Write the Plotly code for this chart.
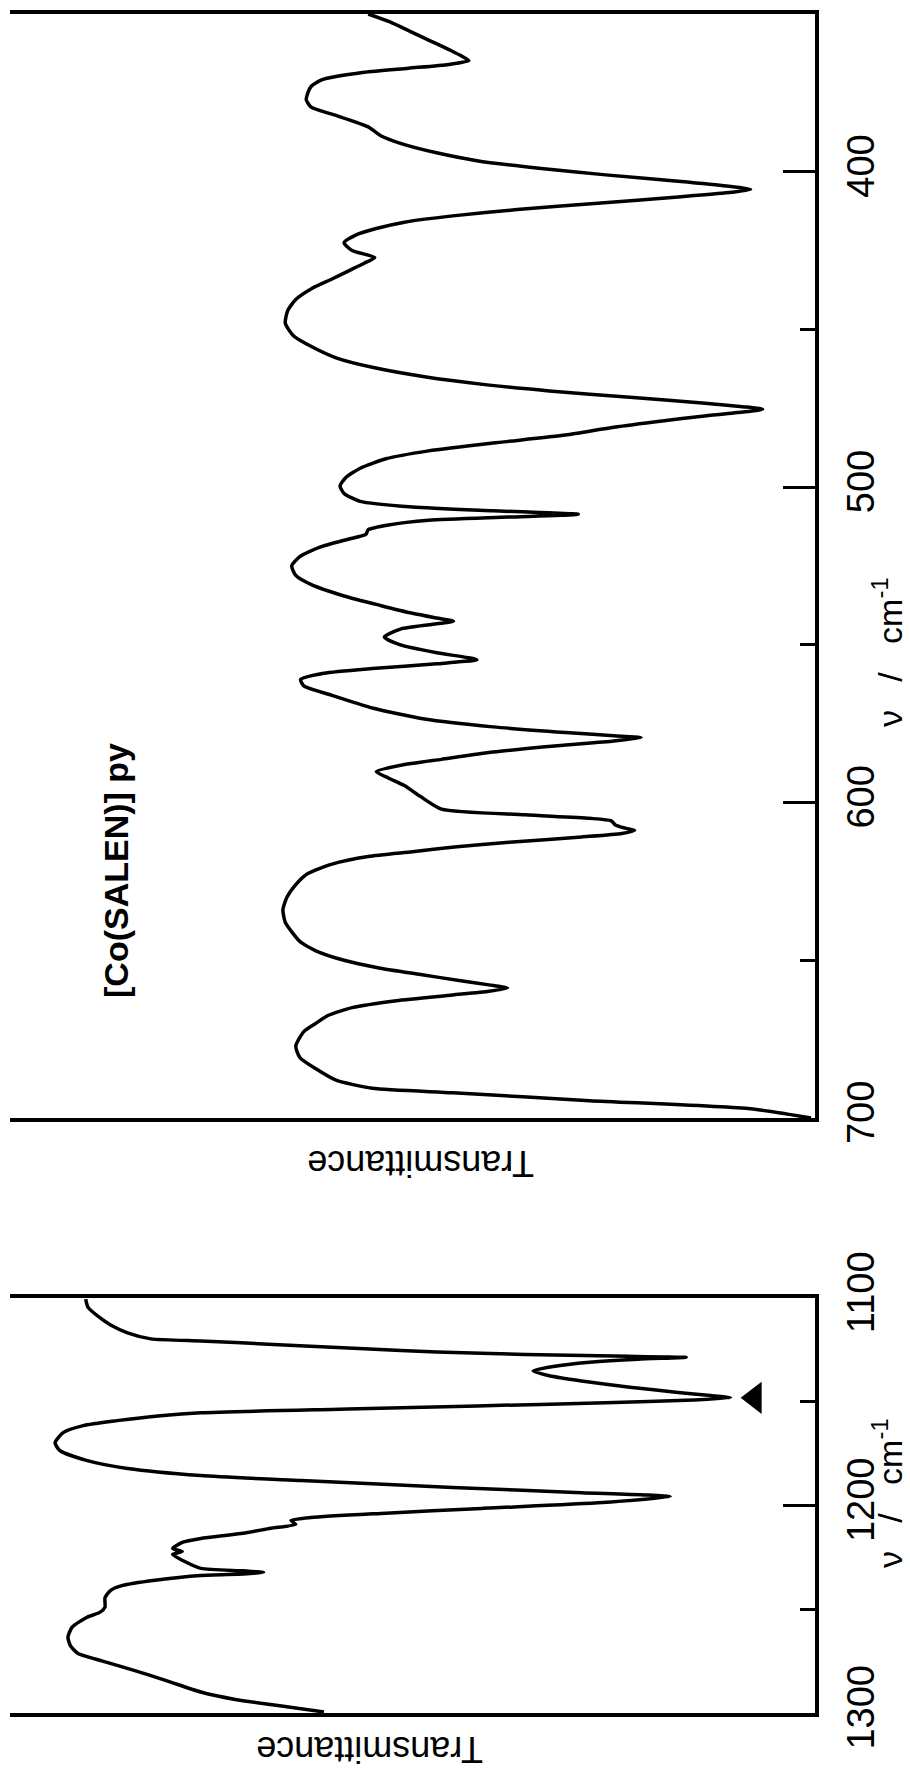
import plotly.graph_objects as go

# IR spectrum of [Co(SALEN)] py, drawn on its side (wavenumber runs vertically)
# Transmittance is in arbitrary units: 0 at the wavenumber axis, 100 at the open edge.

# 350-700 cm-1 region
TOP_WN = [350.0, 352.5, 355.5, 358.5, 361.5, 363.5, 364.8, 366.0, 367.2, 368.5,
          370.9, 373.0, 375.0, 377.2, 379.5, 382.0, 385.8, 388.5, 391.0, 394.0,
          396.5, 399.0, 401.0, 403.0, 404.5, 405.6, 406.7, 408.0, 410.0, 412.0,
          414.0, 416.0, 418.0, 420.0, 422.5, 425.0, 427.2, 429.0, 431.5, 434.0,
          437.0, 440.5, 444.0, 448.0, 452.0, 455.5, 459.0, 462.0, 465.0, 467.5,
          469.5, 471.5, 473.3, 474.5, 475.3, 476.2, 477.5, 479.0, 481.0, 483.5,
          486.0, 488.5, 491.0, 494.0, 497.0, 499.6, 502.0, 504.5, 506.3, 507.5,
          508.6, 509.5, 510.5, 512.0, 513.5, 515.0, 516.5, 519.0, 522.0, 525.0,
          528.0, 531.0, 534.5, 537.5, 540.0, 541.5, 542.5, 543.5, 545.0, 547.5,
          550.0, 552.5, 554.7, 556.0, 557.5, 559.0, 561.0, 563.0, 566.0, 570.0,
          573.5, 576.0, 577.8, 578.8, 579.4, 580.5, 582.0, 584.0, 586.3, 588.2,
          590.2, 592.2, 594.6, 598.1, 602.1, 603.9, 605.0, 605.8, 607.1, 608.1,
          608.8, 609.8, 610.9, 612.6, 614.1, 615.6, 617.1, 619.5, 622.5, 626.0,
          630.0, 634.0, 638.0, 641.0, 644.0, 647.0, 650.0, 652.5, 654.5, 656.5,
          657.8, 658.8, 659.8, 661.0, 662.8, 665.0, 667.5, 670.0, 672.6, 677.2,
          680.8, 684.4, 688.0, 690.6, 692.0, 694.5, 697.1, 700.0]
TOP_T = [55.5, 52.8, 50.3, 47.8, 45.3, 43.8, 43.0, 45.5, 50.5, 56.0,
         61.3, 62.6, 63.0, 63.2, 62.6, 59.7, 55.5, 54.0, 51.5, 47.0,
         42.0, 34.0, 26.0, 17.0, 11.0, 8.0, 11.0, 17.0, 27.0, 37.0,
         45.0, 51.0, 54.5, 57.0, 58.5, 57.5, 54.7, 56.0, 58.0, 60.0,
         62.5, 64.5, 65.5, 65.8, 64.8, 62.5, 59.5, 55.0, 48.5, 41.0,
         33.0, 23.0, 14.0, 9.0, 6.5, 9.0, 14.0, 19.0, 25.0, 31.0,
         40.0, 48.0, 53.3, 56.5, 58.3, 59.0, 58.5, 56.5, 50.0, 40.0,
         29.4, 38.0, 48.0, 53.0, 55.5, 55.8, 58.0, 61.5, 64.0, 65.0,
         64.5, 62.5, 58.5, 54.0, 50.0, 47.0, 44.9, 47.5, 51.5, 53.5,
         51.5, 47.0, 42.0, 47.0, 55.0, 61.0, 63.9, 63.5, 60.0, 55.0,
         48.5, 40.0, 31.0, 25.0, 21.6, 25.0, 32.0, 40.0, 46.4, 51.5,
         54.5, 53.0, 51.0, 49.0, 46.4, 36.0, 28.0, 25.3, 24.8, 23.6,
         22.4, 24.0, 29.0, 38.0, 44.8, 50.0, 55.5, 60.0, 63.0, 64.5,
         65.6, 66.1, 65.8, 65.0, 64.0, 62.0, 58.5, 54.0, 49.0, 44.0,
         40.5, 38.2, 40.5, 45.0, 52.0, 57.5, 60.5, 62.0, 63.5, 64.5,
         64.0, 62.0, 59.5, 55.0, 45.0, 28.0, 8.0, 0.5]

# 1100-1300 cm-1 region
BOT_WN = [1100.5, 1104.5, 1109.6, 1113.0, 1116.8, 1119.7, 1120.7, 1121.5, 1123.0, 1124.5,
          1126.0, 1127.2, 1128.0, 1128.6, 1129.5, 1131.0, 1133.0, 1135.1, 1137.5, 1140.0,
          1143.0, 1145.5, 1147.0, 1148.1, 1149.2, 1150.5, 1152.0, 1153.5, 1155.3, 1156.7,
          1159.1, 1161.5, 1164.9, 1169.7, 1173.6, 1178.4, 1182.2, 1185.6, 1188.0, 1191.3,
          1193.8, 1195.7, 1198.6, 1201.4, 1203.8, 1205.8, 1207.2, 1209.1, 1211.0, 1213.5,
          1215.9, 1217.8, 1220.7, 1222.2, 1223.6, 1226.4, 1230.3, 1231.5, 1232.3, 1233.0,
          1233.7, 1236.0, 1238.5, 1240.9, 1244.5, 1249.0, 1251.4, 1254.0, 1258.7, 1263.5,
          1267.5, 1271.2, 1275.0, 1279.3, 1284.5, 1289.9, 1293.5, 1296.5, 1299.5]
BOT_T = [90.6, 90.3, 88.8, 87.5, 85.4, 82.5, 76.3, 72.0, 64.0, 56.0,
         47.0, 36.0, 25.0, 16.0, 22.0, 28.0, 32.5, 35.0, 33.0, 29.0,
         23.0, 17.0, 13.0, 10.5, 15.0, 26.0, 42.0, 58.0, 76.3, 81.3,
         86.7, 90.9, 93.4, 94.4, 93.8, 90.4, 85.4, 76.3, 63.8, 45.0,
         29.0, 18.0, 26.4, 41.4, 53.9, 62.6, 65.1, 64.5, 67.6, 71.3,
         76.3, 78.6, 79.8, 78.6, 79.8, 78.6, 76.3, 71.0, 68.5, 71.0,
         76.3, 82.0, 86.0, 87.5, 88.2, 88.2, 88.8, 90.5, 92.3, 92.8,
         92.5, 91.6, 88.5, 84.7, 80.5, 76.3, 72.0, 66.5, 61.0]

TOP_TICKS = [400, 500, 600, 700]
TOP_MINOR = [450, 550, 650]
BOT_TICKS = [1100, 1200, 1300]
BOT_MINOR = [1150, 1250]
MARKED_BAND = 1148.1   # band flagged with the arrowhead

FONT = "Liberation Sans, Arial, Helvetica, sans-serif"
INK = "black"

fig = go.Figure()
line_style = dict(color=INK, width=3.5, shape="spline", smoothing=0.6)
fig.add_trace(go.Scatter(x=TOP_T, y=TOP_WN, mode="lines", line=line_style,
                         xaxis="x", yaxis="y", hoverinfo="skip"))
fig.add_trace(go.Scatter(x=BOT_T, y=BOT_WN, mode="lines", line=line_style,
                         xaxis="x2", yaxis="y2", hoverinfo="skip"))
fig.add_trace(go.Scatter(x=[7.5], y=[MARKED_BAND], mode="markers",
                         marker=dict(symbol="triangle-left", size=28, color=INK),
                         xaxis="x2", yaxis="y2", hoverinfo="skip"))

W, H = 910, 1772
x_dom = [10 / W, 815 / W]
top_dom = [1 - 1118 / H, 1 - 14 / H]
bot_dom = [1 - 1713 / H, 1 - 1298 / H]

def t_axis(anchor):
    return dict(domain=x_dom, range=[100, 0], anchor=anchor, showline=True,
                mirror=True, linecolor=INK, linewidth=3.5, showticklabels=False,
                ticks="", showgrid=False, zeroline=False, fixedrange=True,
                automargin=False)

def wn_axis(anchor, dom, rng, ticks, minor):
    return dict(domain=dom, range=rng, anchor=anchor, side="right",
                showline=True, linecolor=INK, linewidth=3.5,
                tickmode="array", tickvals=ticks, ticktext=[str(t) for t in ticks],
                ticks="inside", ticklen=32, tickwidth=3, tickcolor=INK,
                minor=dict(tickmode="array", tickvals=minor, ticks="inside",
                           ticklen=15, tickwidth=3, tickcolor=INK),
                tickangle=-90, tickfont=dict(family=FONT, size=38, color=INK),
                ticklabelstandoff=10, showgrid=False, zeroline=False,
                automargin=False)

fig.update_layout(
    width=W, height=H, margin=dict(l=0, r=0, t=0, b=0, pad=0),
    paper_bgcolor="white", plot_bgcolor="white", showlegend=False,
    xaxis=t_axis("y"),
    yaxis=wn_axis("x", top_dom, [700, 350], TOP_TICKS, TOP_MINOR),
    xaxis2=t_axis("y2"),
    yaxis2=wn_axis("x2", bot_dom, [1300, 1100], BOT_TICKS, BOT_MINOR),
)

gap = "\u00a0\u00a0\u00a0"
nu_label = "\u03bd" + gap + "/" + gap + "cm<sup>-1</sup>"
annos = [
    dict(text="<b>[Co(SALEN)] py</b>", x=116 / W, y=1 - 870 / H, textangle=-90,
         font=dict(family=FONT, size=34, color=INK)),
    dict(text="Transmittance", x=421 / W, y=1 - 1164 / H, textangle=180,
         font=dict(family=FONT, size=36, color=INK)),
    dict(text="Transmittance", x=370 / W, y=1 - 1750 / H, textangle=180,
         font=dict(family=FONT, size=36, color=INK)),
    dict(text=nu_label, x=887 / W, y=1 - 652 / H, textangle=-90,
         font=dict(family=FONT, size=34, color=INK)),
    dict(text=nu_label, x=887 / W, y=1 - 1493 / H, textangle=-90,
         font=dict(family=FONT, size=34, color=INK)),
]
for a in annos:
    fig.add_annotation(xref="paper", yref="paper", showarrow=False,
                       xanchor="center", yanchor="middle", **a)

fig.write_html("out.html")
